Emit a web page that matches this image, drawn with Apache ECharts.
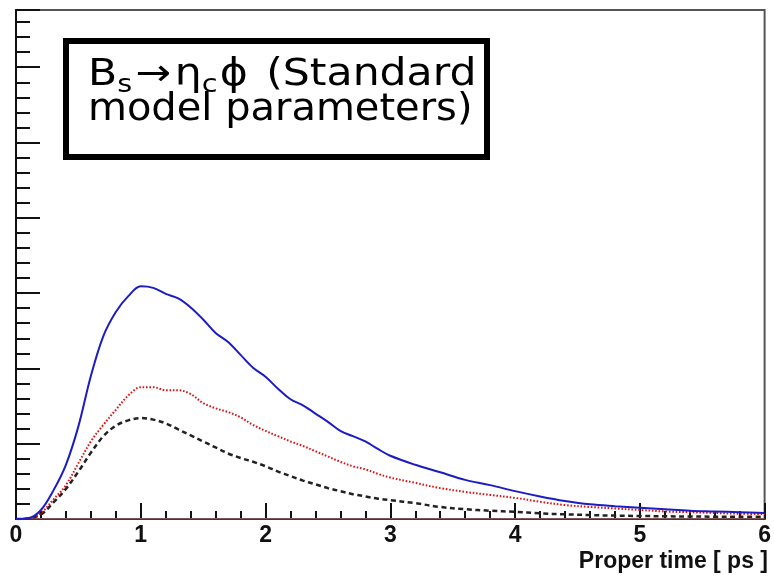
<!DOCTYPE html>
<html>
<head>
<meta charset="utf-8">
<script src="https://cdn.jsdelivr.net/npm/echarts@6/dist/echarts.min.js"></script>
<style>html,body{margin:0;padding:0;background:#fff;}#c{width:774px;height:580px;}</style>
</head>
<body>
<div id="c"></div>
<script>
// Proper time (ps)
const times = [0,0.1,0.2,0.3,0.4,0.5,0.6,0.7,0.8,0.9,1.0,1.1,1.2,1.3,1.4,1.5,1.6,1.7,1.8,1.9,2.0,
  2.1,2.2,2.3,2.4,2.5,2.6,2.7,2.8,2.9,3.0,3.2,3.4,3.6,3.8,4.0,4.2,4.4,4.6,4.8,5.0,5.2,5.4,5.6,5.8,6.0];
// solid blue curve
const blueValues = [0,0.01,0.12,0.38,0.72,1.23,1.90,2.43,2.75,2.96,3.09,3.07,2.99,2.93,2.81,2.65,2.47,2.35,2.18,2.01,1.89,
  1.73,1.59,1.51,1.40,1.29,1.17,1.10,1.03,0.93,0.84,0.72,0.62,0.52,0.45,0.37,0.30,0.24,0.195,0.17,0.15,0.13,0.11,0.10,0.09,0.08];
// dotted red curve
const redValues = [0,0.01,0.08,0.26,0.45,0.74,1.03,1.25,1.45,1.64,1.75,1.75,1.71,1.71,1.66,1.54,1.47,1.42,1.35,1.25,1.17,
  1.10,1.03,0.97,0.90,0.83,0.76,0.70,0.66,0.60,0.55,0.48,0.41,0.36,0.32,0.28,0.23,0.185,0.16,0.14,0.12,0.10,0.09,0.08,0.07,0.066];
// dashed black curve
const blackValues = [0,0.01,0.06,0.22,0.40,0.63,0.88,1.10,1.24,1.31,1.34,1.32,1.27,1.19,1.11,1.03,0.95,0.87,0.81,0.76,0.70,
  0.63,0.57,0.51,0.46,0.41,0.37,0.33,0.30,0.27,0.25,0.21,0.16,0.13,0.11,0.095,0.075,0.062,0.052,0.045,0.04,0.036,0.033,0.031,0.03,0.03];
const xTickValues = [0,1,2,3,4,5,6];
const xTitle = 'Proper time [ ps ]';
const boxLine2 = 'model parameters)';

const zip = (ys) => times.map((t, i) => [t, ys[i]]);

const chart = echarts.init(document.getElementById('c'), null, {renderer: 'canvas'});
const tickFont = 'Liberation Sans';
const boxFont = 'DejaVu Sans';
const option = {
  animation: false,
  backgroundColor: '#ffffff',
  grid: {left: 16, right: 6, top: 10, bottom: 61, show: true, borderColor: '#555', borderWidth: 2, backgroundColor: 'transparent'},
  xAxis: {
    type: 'value', min: 0, max: 6, interval: 1,
    axisLine: {show: true, onZero: false, lineStyle: {color: '#111', width: 2}},
    axisTick: {show: true, inside: true, length: 16, lineStyle: {color: '#111', width: 2}},
    minorTick: {show: true, splitNumber: 5, length: 8, lineStyle: {color: '#111', width: 2}},
    splitLine: {show: false}, minorSplitLine: {show: false},
    axisLabel: {show: true, margin: 5, color: '#111', fontSize: 23, fontWeight: 'bold', fontFamily: tickFont,
      formatter: (v) => xTickValues.indexOf(v) >= 0 ? String(v) : ''}
  },
  yAxis: [{
    type: 'value', min: 0, max: 6.76, interval: 1,
    axisLine: {show: true, onZero: false, lineStyle: {color: '#111', width: 2}},
    axisTick: {show: true, inside: true, length: 24, lineStyle: {color: '#111', width: 2}},
    splitLine: {show: false},
    axisLabel: {show: false}
  }, {
    type: 'value', min: 0, max: 6.76, interval: 0.2, position: 'left', alignTicks: false,
    axisLine: {show: false},
    axisTick: {show: true, inside: true, length: 14, lineStyle: {color: '#111', width: 2}},
    splitLine: {show: false},
    axisLabel: {show: false}
  }],
  series: [
    {type: 'line', name: 'zero', data: [[0, 0], [6, 0]], symbol: 'none', silent: true, z: 1,
      lineStyle: {color: '#f2a0a0', width: 1}},
    {type: 'line', name: 'black', data: zip(blackValues), symbol: 'none', smooth: 0.35,
      lineStyle: {color: '#222', width: 2.5, type: [5, 3.5]}},
    {type: 'line', name: 'red', data: zip(redValues), symbol: 'none', smooth: 0.35,
      lineStyle: {color: '#e01010', width: 2, type: [1.6, 1.8]}},
    {type: 'line', name: 'blue', data: zip(blueValues), symbol: 'none', smooth: 0.35,
      lineStyle: {color: '#1c1cc4', width: 2}}
  ],
  graphic: [
    {type: 'rect', shape: {x: 66, y: 41, width: 421, height: 116}, z: 100,
      style: {fill: '#fff', stroke: '#000', lineWidth: 6}},
    {type: 'text', x: 88, y: 75, scaleX: 1.15, z: 101,
      style: {
        text: '{n|B}{s|s}{a|→}{n|η}{s|c}{p|ϕ}{n|(Standard}',
        verticalAlign: 'middle', align: 'left',
        rich: {
          n: {fontSize: 37, fontFamily: boxFont, color: '#000', lineHeight: 46, verticalAlign: 'middle'},
          a: {fontSize: 37, fontFamily: boxFont, color: '#000', lineHeight: 46, verticalAlign: 'middle', padding: [0, 3, 0, 3]},
          p: {fontSize: 37, fontFamily: boxFont, color: '#000', lineHeight: 46, verticalAlign: 'middle', padding: [0, 16, 0, 2]},
          s: {fontSize: 25, fontFamily: boxFont, color: '#000', lineHeight: 25, verticalAlign: 'bottom'}
        }
      }},
    {type: 'text', x: 88, y: 110, scaleX: 1.08, z: 101,
      style: {text: boxLine2, font: '37px "DejaVu Sans"', fill: '#000', verticalAlign: 'middle', align: 'left'}},
    {type: 'text', right: 6, top: 550, z: 101,
      style: {text: xTitle, font: 'bold 23px "Liberation Sans"', fill: '#111'}}
  ]
};
chart.setOption(option);
</script>
</body>
</html>
